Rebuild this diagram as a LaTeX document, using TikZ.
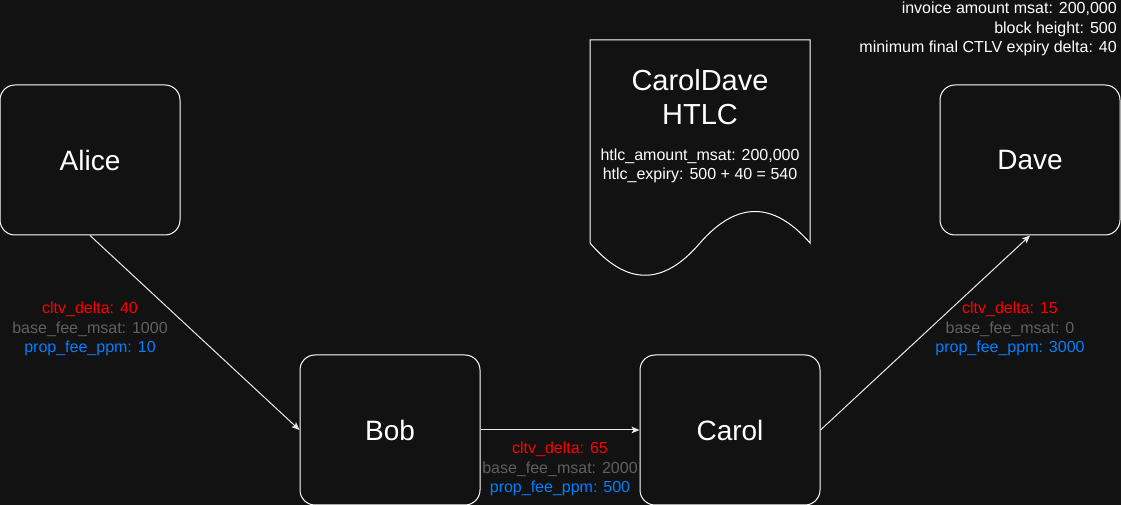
\documentclass[tikz,border=0pt]{standalone}
\usepackage{fontspec}
\setmainfont{Liberation Sans}
\usetikzlibrary{arrows.meta}
\definecolor{bg}{HTML}{121212}
\definecolor{lred}{HTML}{FF0000}
\definecolor{lgray}{HTML}{606060}
\definecolor{lblue}{HTML}{007FFF}
\tikzset{
  peer/.style={draw=white, line width=0.75pt, fill=bg, rounded corners=15pt*0.75,
    minimum width=135pt, minimum height=112.5pt, inner sep=0pt,
    text=white, font=\fontsize{21}{25}\selectfont},
  link/.style={draw=white!92!black, line width=0.75pt, -{Stealth[length=6pt,width=5pt,inset=1.5pt]}},
  elabel/.style={align=center, inner sep=0pt, font=\fontsize{12}{14.4}\selectfont},
  doctext/.style={align=center, inner sep=0pt, text=white},
}
\begin{document}
\begin{tikzpicture}[x=0.75pt,y=-0.75pt]
\useasboundingbox (0,0) rectangle (1121,505);
\fill[bg] (0,0) rectangle (1121,505);

\node[peer] (alice) at (90,160) {Alice};
\node[peer] (dave) at (1030,160) {Dave};
\node[peer] (bob) at (390,430) {Bob};
\node[peer] (carol) at (730,430) {Carol};

\draw[link] (alice.south) -- (bob.west);
\draw[link] (bob.east) -- (carol.west);
\draw[link] (carol.east) -- (dave.south);

\node[elabel] (lab1) at (90,329) {\textcolor{lred}{cltv\_delta: 40}\\\textcolor{lgray}{base\_fee\_msat: 1000}\\\textcolor{lblue}{prop\_fee\_ppm: 10}};
\node[elabel] (lab2) at (560,469) {\textcolor{lred}{cltv\_delta: 65}\\\textcolor{lgray}{base\_fee\_msat: 2000}\\\textcolor{lblue}{prop\_fee\_ppm: 500}};
\node[elabel] (lab3) at (1010,329) {\textcolor{lred}{cltv\_delta: 15}\\\textcolor{lgray}{base\_fee\_msat: 0}\\\textcolor{lblue}{prop\_fee\_ppm: 3000}};

% document shape
\draw[white, line width=0.75pt, fill=bg] (590,40) -- (810,40) -- (810,243)
  .. controls (773.3,201) and (736.7,201) .. (700,243)
  .. controls (663.3,286) and (626.7,286) .. (590,243) -- cycle;
\node[doctext, font=\fontsize{21.75}{25.5}\selectfont] (doctitle) at (700,97) {CarolDave\\HTLC};
\node[doctext, font=\fontsize{12}{14.4}\selectfont] (docbody) at (700,166) {htlc\_amount\_msat: 200,000\\htlc\_expiry: 500 + 40 = 540};

\node[align=right, anchor=east, inner sep=0pt, text=white, font=\fontsize{12}{14.4}\selectfont] (invoice) at (1117,29) {invoice amount msat: 200,000\\block height: 500\\minimum final CTLV expiry delta: 40};
\end{tikzpicture}
\end{document}
